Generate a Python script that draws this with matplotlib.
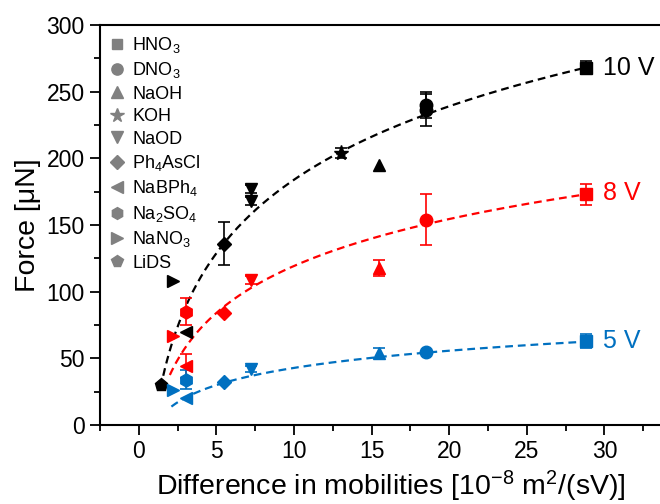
import numpy as np
import matplotlib
matplotlib.use("Agg")
import matplotlib.pyplot as plt
from matplotlib.ticker import MultipleLocator, FixedLocator
from matplotlib.lines import Line2D

plt.rcParams['font.family'] = ['Liberation Sans', 'DejaVu Sans']
plt.rcParams['mathtext.fontset'] = 'custom'
plt.rcParams['mathtext.rm'] = 'Liberation Sans'
plt.rcParams['mathtext.it'] = 'Liberation Sans'

# ---- data ----
legend_names = ["HNO3", "DNO3", "NaOH", "KOH", "NaOD", "Ph4AsCl", "NaBPh4", "Na2SO4", "NaNO3", "LiDS"]
legend_labels = ["HNO$_3$", "DNO$_3$", "NaOH", "KOH", "NaOD", "Ph$_4$AsCl", "NaBPh$_4$",
                 "Na$_2$SO$_4$", "NaNO$_3$", "LiDS"]

v10_names = ["HNO3", "DNO3", "DNO3", "NaOH", "KOH", "NaOD", "NaOD", "Ph4AsCl", "NaBPh4", "NaNO3", "LiDS"]
v10_x = [28.8, 18.5, 18.5, 15.45, 13.0, 7.2, 7.2, 5.5, 3.07, 2.2, 1.46]
v10_y = [268, 240, 236, 195, 204, 177, 168, 136, 70, 108, 30]
v10_err = [5, 10, 12, 0, 4, 3, 3, 16, 0, 0, 0]

v8_names = ["HNO3", "DNO3", "NaOH", "NaOD", "Ph4AsCl", "Na2SO4", "NaNO3", "NaBPh4"]
v8_x = [28.8, 18.5, 15.45, 7.2, 5.5, 3.07, 2.2, 3.07]
v8_y = [173, 154, 118, 109, 84, 85, 67, 44]
v8_err = [8, 19, 6, 3, 0, 10, 0, 9]

v5_names = ["HNO3", "DNO3", "NaOH", "NaOD", "Ph4AsCl", "Na2SO4", "NaNO3", "NaBPh4"]
v5_x = [28.8, 18.5, 15.45, 7.2, 5.5, 3.07, 2.2, 3.07]
v5_y = [63, 55, 54, 42, 32, 34, 26, 20]
v5_err = [5, 0, 4, 2, 0, 7, 0, 0]

# logarithmic fit parameters F = a*ln(x) + b, and fit x-ranges
fit_10 = (79.5, 0.9, 1.4, 28.8)
fit_8 = (50.8, 2.3, 2.0, 28.8)
fit_5 = (18.6, 0.0, 2.1, 28.8)

voltage_labels = ["10 V", "8 V", "5 V"]
x_major_ticks = [0, 5, 10, 15, 20, 25, 30]

# ---- styles ----
markers = {"HNO3": "s", "DNO3": "o", "NaOH": "^", "KOH": "*", "NaOD": "v", "Ph4AsCl": "D",
           "NaBPh4": "<", "Na2SO4": "h", "NaNO3": ">", "LiDS": "p"}
msizes = {"s": 8, "o": 9, "^": 9, "*": 11, "v": 9, "D": 7.5, "<": 9, "h": 9.5, ">": 9, "p": 9.5}
c10, c8, c5 = "black", "#FF0000", "#0070C0"

fig = plt.figure(figsize=(6.6, 5.04), dpi=100)
ax = fig.add_axes([100/660, 79/504, 582/660, 400/504])

def draw(names, xs, ys, errs, color, fit):
    a, b, x0, x1 = fit
    xf = np.linspace(x0, x1, 200)
    ax.plot(xf, a*np.log(xf) + b, ls=(0, (3.5, 2.2)), color=color, lw=1.6, zorder=2)
    for n, x, y, e in zip(names, xs, ys, errs):
        m = markers[n]
        ax.errorbar(x, y, yerr=e if e > 0 else None, marker=m, ms=msizes[m], color=color,
                    mec=color, ecolor=color, elinewidth=1.2, capsize=4.5, capthick=1.2,
                    ls='none', zorder=3)

draw(v10_names, v10_x, v10_y, v10_err, c10, fit_10)
draw(v8_names, v8_x, v8_y, v8_err, c8, fit_8)
draw(v5_names, v5_x, v5_y, v5_err, c5, fit_5)

ax.text(29.9, 268, voltage_labels[0], color=c10, fontsize=18, va='center', ha='left')
ax.text(29.9, 174, voltage_labels[1], color=c8, fontsize=18, va='center', ha='left')
ax.text(29.9, 63, voltage_labels[2], color=c5, fontsize=18, va='center', ha='left')

ax.set_xlim(-2.5, 35)
ax.set_ylim(0, 300)
ax.xaxis.set_major_locator(FixedLocator(x_major_ticks))
ax.xaxis.set_minor_locator(MultipleLocator(2.5))
ax.yaxis.set_major_locator(MultipleLocator(50))
ax.yaxis.set_minor_locator(MultipleLocator(25))
ax.tick_params(which='major', direction='out', length=7, width=1.3, labelsize=16.5, pad=4)
ax.tick_params(which='minor', direction='out', length=4, width=1.3)
for s in ax.spines.values():
    s.set_linewidth(1.5)

ax.set_xlabel("Difference in mobilities [10$^{-8}$ m$^{2}$/(sV)]", fontsize=20.5, labelpad=4)
ax.set_ylabel("Force [\u03bcN]", fontsize=20.5, labelpad=4)

handles = [Line2D([], [], marker=markers[n], color='#808080', ls='none', ms=msizes[markers[n]] * 0.9)
           for n in legend_names]
ax.legend(handles, legend_labels, loc='upper left', bbox_to_anchor=(0.0, 1.0), frameon=False,
          fontsize=13, handlelength=0.8, handletextpad=0.45, labelspacing=0.3,
          borderaxespad=0.15)

fig.savefig("out.png", dpi=100)
